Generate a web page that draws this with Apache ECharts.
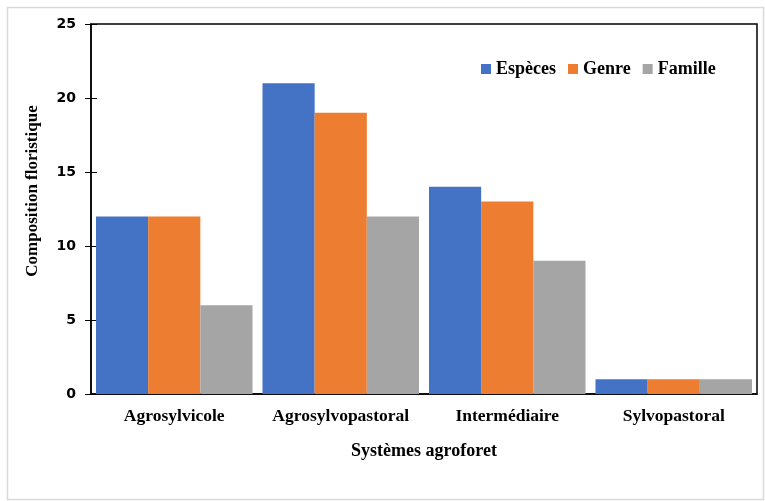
<!DOCTYPE html>
<html>
<head>
<meta charset="utf-8">
<script src="https://cdn.jsdelivr.net/npm/echarts@6/dist/echarts.min.js"></script>
<style>
  html, body { margin: 0; padding: 0; background: #fff; }
  #chart { width: 765px; height: 501px; }
</style>
</head>
<body>
<div id="chart"></div>
<script>
// categories and values
var categories = ['Agrosylvicole', 'Agrosylvopastoral', 'Intermédiaire', 'Sylvopastoral']
var especes = [12, 21, 14, 1]
var genre = [12, 19, 13, 1]
var famille = [6, 12, 9, 1]

var serif = '"Liberation Serif", "Times New Roman", serif'

var chart = echarts.init(document.getElementById('chart'))
chart.setOption({
  animation: false,
  color: ['#4472C4', '#ED7D31', '#A5A5A5'],
  graphic: [{
    type: 'rect',
    shape: { x: 7.5, y: 7.5, width: 756, height: 492 },
    style: { fill: 'none', stroke: '#d9d9d9', lineWidth: 1.5 },
    silent: true
  }],
  grid: {
    left: 91,
    right: 8,
    top: 24,
    bottom: 107,
    show: true,
    borderColor: '#000',
    borderWidth: 1.5
  },
  legend: {
    data: ['Espèces', 'Genre', 'Famille'],
    left: 476,
    top: 55,
    itemWidth: 10,
    itemHeight: 10,
    itemGap: 12,
    icon: 'rect',
    textStyle: {
      fontFamily: serif,
      fontWeight: 'bold',
      fontSize: 18,
      color: '#000'
    }
  },
  xAxis: {
    type: 'category',
    data: categories,
    name: 'Systèmes agroforet',
    nameLocation: 'middle',
    nameGap: 48,
    nameTextStyle: {
      fontFamily: serif,
      fontWeight: 'bold',
      fontSize: 18,
      color: '#000'
    },
    axisLine: { lineStyle: { color: '#000', width: 1.5 } },
    axisTick: { alignWithLabel: true, length: 4, lineStyle: { color: '#bfbfbf' } },
    axisLabel: {
      interval: 0,
      margin: 13,
      fontFamily: serif,
      fontWeight: 'bold',
      fontSize: 17.5,
      color: '#000'
    }
  },
  yAxis: [{
    type: 'value',
    min: 0,
    max: 25,
    interval: 5,
    name: 'Composition floristique',
    nameLocation: 'middle',
    nameGap: 50,
    nameTextStyle: {
      fontFamily: serif,
      fontWeight: 'bold',
      fontSize: 17,
      color: '#000',
      padding: [0, 0, 0, 36]
    },
    axisLine: { show: true, lineStyle: { color: '#000', width: 1.5 } },
    axisTick: { show: true, length: 6, lineStyle: { color: '#000' } },
    splitLine: { show: false },
    axisLabel: {
      margin: 15,
      fontFamily: '"DejaVu Sans", Verdana, sans-serif',
      fontWeight: 'bold',
      fontSize: 14,
      color: '#000'
    }
  }, {
    // inner half of the crossing ticks
    type: 'value',
    min: 0,
    max: 25,
    interval: 5,
    position: 'left',
    axisLine: { show: false },
    axisTick: { show: true, inside: true, length: 6, lineStyle: { color: '#000' } },
    axisLabel: { show: false },
    splitLine: { show: false }
  }],
  series: [{
    name: 'Espèces',
    type: 'bar',
    data: especes,
    barGap: 0,
    barCategoryGap: '6%'
  }, {
    name: 'Genre',
    type: 'bar',
    data: genre,
    barGap: 0,
    barCategoryGap: '6%'
  }, {
    name: 'Famille',
    type: 'bar',
    data: famille,
    barGap: 0,
    barCategoryGap: '6%'
  }]
})
</script>
</body>
</html>
